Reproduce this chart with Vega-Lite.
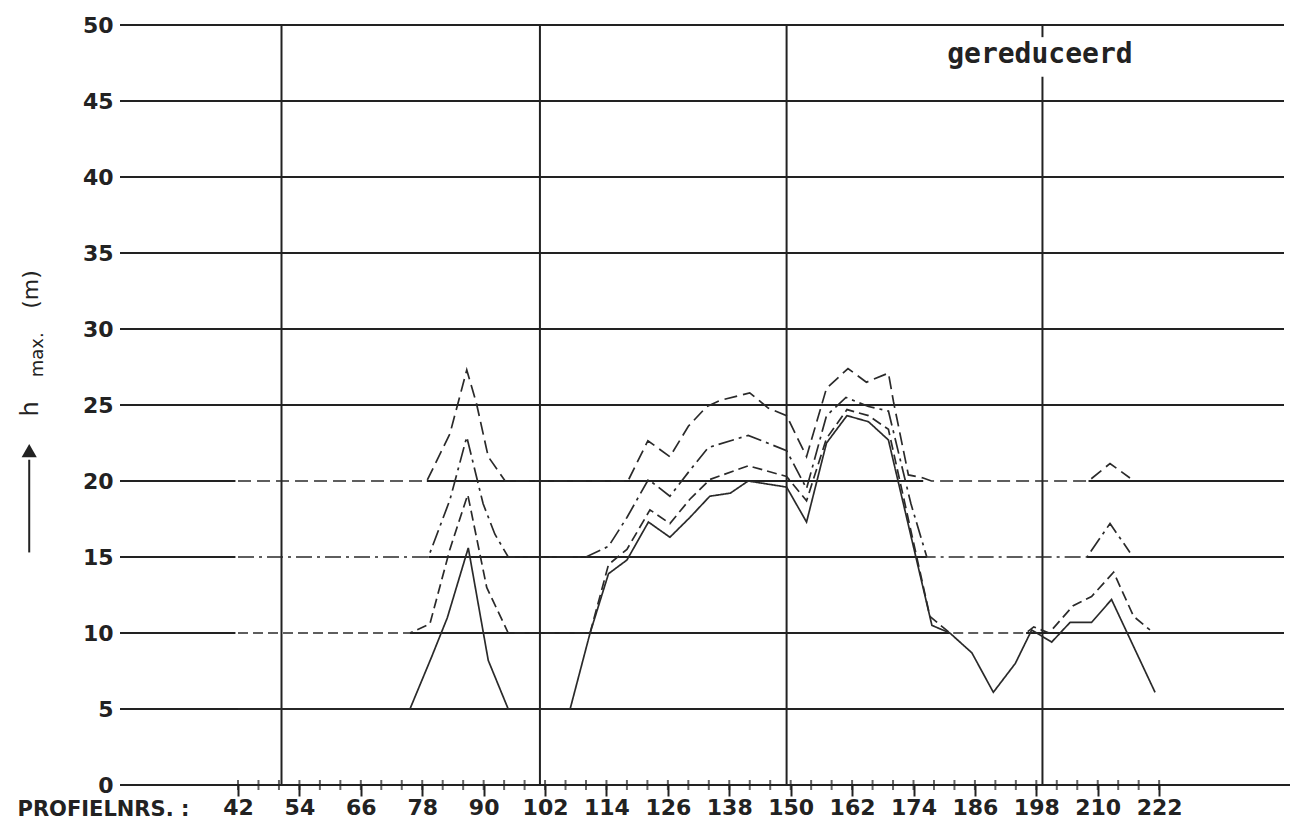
{
  "$schema": "https://vega.github.io/schema/vega-lite/v6.json",
  "width": 1164,
  "height": 760,
  "autosize": {"type": "none"},
  "padding": {"left": 120, "top": 25, "right": 6, "bottom": 44},
  "background": "white",
  "config": {"view": {"stroke": null}, "font": "DejaVu Sans"},
  "datasets": {
    "hgrid": [
      {"y": 0, "a": 18.94, "b": 247.6},
      {"y": 5, "a": 18.94, "b": 246.4},
      {"y": 10, "a": 18.94, "b": 41.5},
      {"y": 10, "a": 75.6, "b": 181.1},
      {"y": 10, "a": 196, "b": 246.4},
      {"y": 15, "a": 18.94, "b": 41.5},
      {"y": 15, "a": 79.2, "b": 176.6},
      {"y": 15, "a": 207.9, "b": 246.4},
      {"y": 20, "a": 18.94, "b": 41.5},
      {"y": 20, "a": 78.9, "b": 175.9},
      {"y": 20, "a": 208.2, "b": 246.4},
      {"y": 25, "a": 18.94, "b": 246.4},
      {"y": 30, "a": 18.94, "b": 246.4},
      {"y": 35, "a": 18.94, "b": 246.4},
      {"y": 40, "a": 18.94, "b": 246.4},
      {"y": 45, "a": 18.94, "b": 246.4},
      {"y": 50, "a": 18.94, "b": 246.4}
    ],
    "vgrid": [
      {"x": 50.5, "y1": 0, "y2": 50},
      {"x": 101, "y1": 0, "y2": 50},
      {"x": 149.2, "y1": 0, "y2": 50},
      {"x": 199.2, "y1": 0, "y2": 46.6},
      {"x": 199.2, "y1": 49.2, "y2": 50}
    ],
    "xticks": [
      {"p": 42}, {"p": 46}, {"p": 50}, {"p": 54}, {"p": 58}, {"p": 62}, {"p": 66}, {"p": 70}, {"p": 74}, {"p": 78}, {"p": 82}, {"p": 86}, {"p": 90}, {"p": 94}, {"p": 98}, {"p": 102}, {"p": 106}, {"p": 110}, {"p": 114}, {"p": 118}, {"p": 122}, {"p": 126}, {"p": 130}, {"p": 134}, {"p": 138}, {"p": 142}, {"p": 146}, {"p": 150}, {"p": 154}, {"p": 158}, {"p": 162}, {"p": 166}, {"p": 170}, {"p": 174}, {"p": 178}, {"p": 182}, {"p": 186}, {"p": 190}, {"p": 194}, {"p": 198}, {"p": 202}, {"p": 206}, {"p": 210}, {"p": 214}, {"p": 218}, {"p": 222}
    ],
    "series": [
      {"s": "A", "p": 42, "h": 5}, {"s": "A", "p": 75.6, "h": 5}, {"s": "A", "p": 79.8, "h": 8.4}, {"s": "A", "p": 82.9, "h": 11.0}, {"s": "A", "p": 87.0, "h": 15.6}, {"s": "A", "p": 90.9, "h": 8.2}, {"s": "A", "p": 94.8, "h": 5}, {"s": "A", "p": 106.9, "h": 5}, {"s": "A", "p": 110.8, "h": 10.0}, {"s": "A", "p": 114.4, "h": 13.9}, {"s": "A", "p": 118, "h": 14.8}, {"s": "A", "p": 122.2, "h": 17.3}, {"s": "A", "p": 126.4, "h": 16.3}, {"s": "A", "p": 130.3, "h": 17.6}, {"s": "A", "p": 134.2, "h": 19.0}, {"s": "A", "p": 138.2, "h": 19.2}, {"s": "A", "p": 141.7, "h": 20.0}, {"s": "A", "p": 149.2, "h": 19.6}, {"s": "A", "p": 153.1, "h": 17.3}, {"s": "A", "p": 157, "h": 22.5}, {"s": "A", "p": 161, "h": 24.3}, {"s": "A", "p": 165.2, "h": 23.9}, {"s": "A", "p": 169.1, "h": 22.7}, {"s": "A", "p": 177.6, "h": 10.5}, {"s": "A", "p": 181.1, "h": 10.0}, {"s": "A", "p": 185.4, "h": 8.7}, {"s": "A", "p": 189.6, "h": 6.1}, {"s": "A", "p": 193.9, "h": 8.0}, {"s": "A", "p": 197.1, "h": 10.2}, {"s": "A", "p": 201, "h": 9.4}, {"s": "A", "p": 204.6, "h": 10.7}, {"s": "A", "p": 208.8, "h": 10.7}, {"s": "A", "p": 212.7, "h": 12.2}, {"s": "A", "p": 221.2, "h": 6.1},
      {"s": "B", "p": 42, "h": 10}, {"s": "B", "p": 75.6, "h": 10}, {"s": "B", "p": 79.5, "h": 10.6}, {"s": "B", "p": 83.4, "h": 15.5}, {"s": "B", "p": 86.9, "h": 19.1}, {"s": "B", "p": 90.6, "h": 13.0}, {"s": "B", "p": 94.8, "h": 10}, {"s": "B", "p": 110.8, "h": 10}, {"s": "B", "p": 114.4, "h": 14.5}, {"s": "B", "p": 118, "h": 15.5}, {"s": "B", "p": 122.5, "h": 18.1}, {"s": "B", "p": 126.4, "h": 17.2}, {"s": "B", "p": 130.3, "h": 18.8}, {"s": "B", "p": 134.2, "h": 20.1}, {"s": "B", "p": 141.7, "h": 21.0}, {"s": "B", "p": 149.2, "h": 20.3}, {"s": "B", "p": 153.1, "h": 18.7}, {"s": "B", "p": 157, "h": 22.8}, {"s": "B", "p": 161, "h": 24.7}, {"s": "B", "p": 165.2, "h": 24.3}, {"s": "B", "p": 169.1, "h": 23.4}, {"s": "B", "p": 177.2, "h": 11.1}, {"s": "B", "p": 181.1, "h": 10.0}, {"s": "B", "p": 196, "h": 10}, {"s": "B", "p": 197.5, "h": 10.4}, {"s": "B", "p": 200.5, "h": 10}, {"s": "B", "p": 205.2, "h": 11.8}, {"s": "B", "p": 208.8, "h": 12.4}, {"s": "B", "p": 213.1, "h": 14.0}, {"s": "B", "p": 217, "h": 11.1}, {"s": "B", "p": 220.2, "h": 10.2},
      {"s": "C", "p": 42, "h": 15}, {"s": "C", "p": 79.2, "h": 15}, {"s": "C", "p": 83.4, "h": 18.75}, {"s": "C", "p": 86.7, "h": 22.9}, {"s": "C", "p": 89.9, "h": 18.5}, {"s": "C", "p": 92.2, "h": 16.5}, {"s": "C", "p": 94.8, "h": 15}, {"s": "C", "p": 110, "h": 15}, {"s": "C", "p": 114.4, "h": 15.7}, {"s": "C", "p": 118, "h": 17.6}, {"s": "C", "p": 122.2, "h": 20.1}, {"s": "C", "p": 126.4, "h": 19.0}, {"s": "C", "p": 130.3, "h": 20.7}, {"s": "C", "p": 133.9, "h": 22.2}, {"s": "C", "p": 141.7, "h": 23.0}, {"s": "C", "p": 149.2, "h": 22.0}, {"s": "C", "p": 153.1, "h": 19.5}, {"s": "C", "p": 157, "h": 24.3}, {"s": "C", "p": 160.8, "h": 25.5}, {"s": "C", "p": 165.2, "h": 24.9}, {"s": "C", "p": 169.1, "h": 24.6}, {"s": "C", "p": 173.5, "h": 18.5}, {"s": "C", "p": 176.6, "h": 15.0}, {"s": "C", "p": 207.9, "h": 15.0}, {"s": "C", "p": 212.4, "h": 17.2}, {"s": "C", "p": 216.3, "h": 15.3},
      {"s": "D", "p": 42, "h": 20}, {"s": "D", "p": 78.9, "h": 20}, {"s": "D", "p": 83.4, "h": 23.1}, {"s": "D", "p": 86.7, "h": 27.3}, {"s": "D", "p": 88.6, "h": 25.1}, {"s": "D", "p": 90.9, "h": 21.6}, {"s": "D", "p": 94.2, "h": 20}, {"s": "D", "p": 118.2, "h": 20}, {"s": "D", "p": 122.1, "h": 22.65}, {"s": "D", "p": 126.4, "h": 21.6}, {"s": "D", "p": 130, "h": 23.6}, {"s": "D", "p": 133.6, "h": 24.9}, {"s": "D", "p": 136.2, "h": 25.3}, {"s": "D", "p": 142, "h": 25.8}, {"s": "D", "p": 145.6, "h": 24.8}, {"s": "D", "p": 149.2, "h": 24.3}, {"s": "D", "p": 153.1, "h": 21.6}, {"s": "D", "p": 157, "h": 26.1}, {"s": "D", "p": 161.2, "h": 27.4}, {"s": "D", "p": 164.8, "h": 26.5}, {"s": "D", "p": 169.1, "h": 27.1}, {"s": "D", "p": 170.1, "h": 25.2}, {"s": "D", "p": 173, "h": 20.4}, {"s": "D", "p": 175.9, "h": 20.2}, {"s": "D", "p": 177.5, "h": 20.0}, {"s": "D", "p": 208.2, "h": 20}, {"s": "D", "p": 212.4, "h": 21.15}, {"s": "D", "p": 216.3, "h": 20.2}
    ],
    "note": [{"p": 198.7, "h": 48.0, "text": "gereduceerd"}],
    "ytitle": [
      {"p": 1.6, "h": 24.74, "text": "h", "size": 24},
      {"p": 2.9, "h": 28.3, "text": "max.", "size": 18},
      {"p": 1.6, "h": 32.6, "text": "(m)", "size": 22}
    ]
  },
  "layer": [
    {
      "data": {"name": "hgrid"},
      "mark": {"type": "rule", "color": "#222", "strokeWidth": 2.2, "clip": false},
      "encoding": {
        "x": {
          "field": "a", "type": "quantitative",
          "scale": {"domain": [18.94, 246.4], "nice": false, "zero": false},
          "axis": {
            "values": [42,54,66,78,90,102,114,126,138,150,162,174,186,198,210,222],
            "grid": false, "domain": false,
            "tickSize": 11, "tickColor": "#222", "tickWidth": 2,
            "labelFontSize": 22, "labelFontWeight": "bold", "labelColor": "#222",
            "labelPadding": 1, "labelOverlap": false, "labelFlush": false,
            "title": "PROFIELNRS. :", "titleFontSize": 21, "titleFontWeight": "bold", "titleColor": "#222",
            "titleAnchor": "start", "titleAlign": "left", "titleBaseline": "middle",
            "titleX": -103, "titleY": 24
          }
        },
        "x2": {"field": "b"},
        "y": {
          "field": "y", "type": "quantitative",
          "scale": {"domain": [0, 50], "nice": false, "zero": false},
          "axis": {
            "values": [0,5,10,15,20,25,30,35,40,45,50],
            "grid": false, "domain": false, "ticks": false, "tickSize": 0,
            "labelPadding": 7, "labelFontSize": 22, "labelFontWeight": "bold", "labelColor": "#222",
            "title": null
          }
        }
      }
    },
    {
      "data": {"name": "vgrid"},
      "mark": {"type": "rule", "color": "#222", "strokeWidth": 2},
      "encoding": {
        "x": {"field": "x", "type": "quantitative"},
        "y": {"field": "y1", "type": "quantitative"},
        "y2": {"field": "y2"}
      }
    },
    {
      "data": {"name": "xticks"},
      "mark": {"type": "tick", "orient": "vertical", "size": 10, "thickness": 2, "color": "#222", "clip": false},
      "encoding": {
        "x": {"field": "p", "type": "quantitative"},
        "y": {"datum": 0, "type": "quantitative"}
      }
    },
    {
      "data": {"name": "series"},
      "mark": {"type": "line", "color": "#2a2a2a", "strokeWidth": 1.7},
      "encoding": {
        "x": {"field": "p", "type": "quantitative"},
        "y": {"field": "h", "type": "quantitative"},
        "strokeDash": {
          "field": "s", "type": "nominal",
          "scale": {"domain": ["A", "B", "C", "D"], "range": [[1, 0], [10, 5], [16, 5, 3, 5], [13, 6]]},
          "legend": null
        }
      }
    },
    {
      "data": {"name": "note"},
      "mark": {"type": "text", "font": "DejaVu Sans Mono", "fontSize": 28, "fontWeight": "bold", "color": "#222", "align": "center", "baseline": "middle"},
      "encoding": {
        "x": {"field": "p", "type": "quantitative"},
        "y": {"field": "h", "type": "quantitative"},
        "text": {"field": "text"}
      }
    },
    {
      "data": {"name": "ytitle"},
      "mark": {"type": "text", "angle": 270, "color": "#222", "align": "center", "baseline": "middle", "clip": false},
      "encoding": {
        "x": {"field": "p", "type": "quantitative"},
        "y": {"field": "h", "type": "quantitative"},
        "text": {"field": "text"},
        "angle": {"value": 270},
        "size": {"field": "size", "type": "quantitative", "scale": null}
      }
    },
    {
      "data": {"values": [{}]},
      "mark": {"type": "rule", "color": "#222", "strokeWidth": 2, "clip": false},
      "encoding": {
        "x": {"datum": 1.2, "type": "quantitative"},
        "y": {"datum": 15.3, "type": "quantitative"},
        "y2": {"datum": 21.4}
      }
    },
    {
      "data": {"values": [{}]},
      "mark": {"type": "point", "shape": "triangle-up", "filled": true, "size": 230, "color": "#222", "opacity": 1, "clip": false},
      "encoding": {
        "x": {"datum": 1.2, "type": "quantitative"},
        "y": {"datum": 22.0, "type": "quantitative"}
      }
    }
  ]
}
